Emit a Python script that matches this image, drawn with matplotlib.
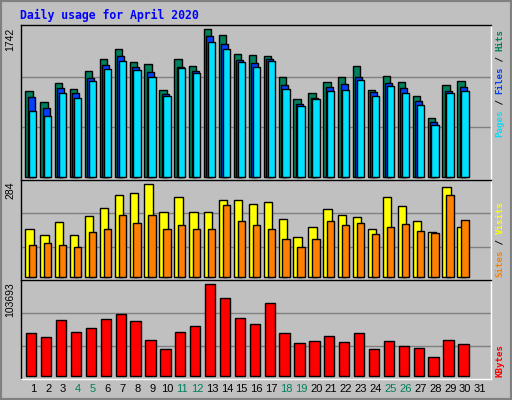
import matplotlib
matplotlib.use("Agg")
import matplotlib.pyplot as plt
from matplotlib.patches import Rectangle
import numpy as np

days = list(range(1, 32))
hits = [1017,879,1103,1033,1245,1387,1505,1352,1328,1021,1387,1304,1742,1671,1446,1434,1423,1174,914,985,1115,1174,1304,1021,1186,1115,950,690,1080,1127,0]
files = [946,808,1044,985,1163,1316,1423,1293,1234,973,1301,1245,1659,1565,1375,1340,1387,1080,855,926,1056,1092,1174,997,1103,1044,891,642,1009,1056,0]
pages = [780,721,985,926,1131,1269,1364,1257,1174,950,1281,1222,1588,1505,1352,1293,1364,1033,832,914,1009,1021,1139,950,1068,985,843,607,985,1009,0]
visits = [148,129,167,129,185,212,250,256,284,200,244,200,198,235,235,222,229,178,121,152,207,189,182,148,244,216,170,136,275,152,0]
sites = [98,103,98,92,136,148,189,164,189,146,158,146,146,219,170,158,148,115,90,115,170,158,164,130,152,161,139,133,250,173,0]
kbytes = [48057,43516,62815,49192,53733,63950,69626,61680,40111,29894,49192,56004,103693,87790,65085,58274,82113,48057,36705,38976,44651,37840,48057,29894,38976,33299,31029,20812,40111,35570,0]
weekends = [4,5,11,12,18,19,25,26]

BG = "#C0C0C0"
fig = plt.figure(figsize=(5.12, 4.0), dpi=100, facecolor=BG)
fig.patches.append(Rectangle((0, 0), 1, 1, transform=fig.transFigure, fill=False, edgecolor="#808080", lw=3))

x0, w = 20.7/512, 470.3/512
def mkax(top, bot):
    return fig.add_axes([x0, (400-bot)/400, w, (bot-top)/400], facecolor=BG)

ax1 = mkax(24.7, 180)
ax2 = mkax(180, 280)
ax3 = mkax(280, 379)

d = np.array(days)
def bars(ax, vals, off, width, color):
    v = np.array(vals)
    m = v > 0
    ax.bar(d[m] + off, v[m], width=width, align="edge", color=color, edgecolor="black", linewidth=1, zorder=3)

bars(ax1, hits, -0.53, 0.49, "#00805C")
bars(ax1, files, -0.37, 0.47, "#0040FF")
bars(ax1, pages, -0.27, 0.49, "#00E0FF")
bars(ax2, visits, -0.53, 0.56, "#FFFF00")
bars(ax2, sites, -0.27, 0.49, "#FF8000")
bars(ax3, kbytes, -0.47, 0.69, "#FF0000")

setup = [(ax1, (-39, 1797), [583, 1182], "1742"),
         (ax2, (-10, 297), [92, 195], "284"),
         (ax3, (-3784, 108613), [33680, 70770], "103693")]
for ax, yl, grid, lab in setup:
    ax.set_xlim(0.16, 31.73)
    ax.set_ylim(*yl)
    for g in grid:
        ax.axhline(g, color="#808080", lw=1, zorder=1)
    ax.set_xticks([]); ax.set_yticks([])
    for s in ax.spines.values():
        s.set_color("black"); s.set_linewidth(1)
    ax.spines["right"].set_color("white"); ax.spines["bottom"].set_color("white")
    ax.text(-0.012, 0.98, lab, transform=ax.transAxes, rotation=90, ha="right", va="top",
            fontsize=7.5, family="Liberation Sans")

for dd in days:
    ax3.text(dd, -0.05, str(dd), transform=ax3.get_xaxis_transform(), ha="center", va="top",
             fontsize=8, family="Liberation Sans", color="#00805C" if dd in weekends else "black")

fig.text(20/512, 1-15/400, "Daily usage for April 2020", color="#0000FF", fontsize=8.3,
         family="DejaVu Sans Mono", weight="bold", va="center", ha="left")

def legend(parts, ybot):
    y = ybot
    cw = 5.35
    for txt, col in parts:
        fig.text(500/512, 1 - y/400, txt, rotation=90, color=col, fontsize=6.6,
                 family="DejaVu Sans Mono", weight="bold", ha="center", va="bottom")
        y -= cw * len(txt)

legend([("Pages", "#00E0FF"), (" / ", "#000000"), ("Files", "#0040FF"), (" / ", "#000000"), ("Hits", "#00805C")], 137)
legend([("Sites", "#FF8000"), (" / ", "#000000"), ("Visits", "#FFFF00")], 277)
legend([("KBytes", "#FF0000")], 377)

fig.savefig("out.png", dpi=100, facecolor=BG)
